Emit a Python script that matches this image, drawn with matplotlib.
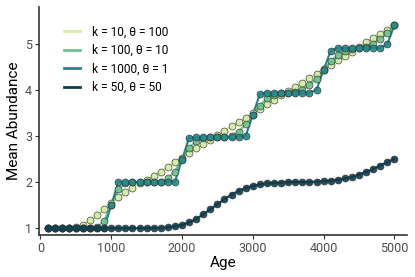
import matplotlib
matplotlib.use("Agg")
import matplotlib.pyplot as plt

plt.rcParams['font.family'] = ['Roboto', 'DejaVu Sans']

age = [100, 200, 300, 400, 500, 600, 700, 800, 900, 1000,
       1100, 1200, 1300, 1400, 1500, 1600, 1700, 1800, 1900, 2000,
       2100, 2200, 2300, 2400, 2500, 2600, 2700, 2800, 2900, 3000,
       3100, 3200, 3300, 3400, 3500, 3600, 3700, 3800, 3900, 4000,
       4100, 4200, 4300, 4400, 4500, 4600, 4700, 4800, 4900, 5000]

# k = 10, theta = 100
ab_k10 = [1.00, 1.00, 1.00, 1.01, 1.03, 1.08, 1.17, 1.28, 1.41, 1.55,
          1.67, 1.78, 1.88, 1.97, 2.05, 2.14, 2.23, 2.33, 2.43, 2.53,
          2.63, 2.73, 2.82, 2.92, 3.02, 3.11, 3.21, 3.30, 3.40, 3.49,
          3.59, 3.69, 3.78, 3.88, 3.97, 4.07, 4.16, 4.26, 4.35, 4.45,
          4.55, 4.64, 4.74, 4.83, 4.93, 5.03, 5.12, 5.22, 5.31, 5.41]

# k = 100, theta = 10
ab_k100 = [1.00, 1.00, 1.00, 1.00, 1.00, 1.00, 1.00, 1.02, 1.16, 1.51,
           1.84, 1.97, 2.00, 2.00, 2.00, 2.00, 2.01, 2.08, 2.23, 2.50,
           2.74, 2.89, 2.95, 2.97, 2.97, 2.98, 3.01, 3.09, 3.26, 3.46,
           3.66, 3.82, 3.90, 3.93, 3.94, 3.96, 4.00, 4.10, 4.24, 4.44,
           4.62, 4.76, 4.85, 4.89, 4.91, 4.94, 5.00, 5.10, 5.23, 5.40]

# k = 1000, theta = 1
ab_k1000 = [1.00, 1.00, 1.00, 1.00, 1.00, 1.00, 1.00, 1.00, 1.00, 1.50,
            2.00, 2.00, 2.00, 2.00, 2.00, 2.00, 2.00, 2.00, 2.01, 2.49,
            2.96, 2.97, 2.97, 2.97, 2.97, 2.97, 2.97, 2.97, 3.00, 3.46,
            3.91, 3.94, 3.94, 3.94, 3.94, 3.94, 3.94, 3.94, 4.00, 4.43,
            4.85, 4.91, 4.91, 4.91, 4.91, 4.91, 4.91, 4.91, 4.99, 5.40]

# k = 50, theta = 50
ab_k50 = [1.00, 1.00, 1.00, 1.00, 1.00, 1.00, 1.00, 1.00, 1.00, 1.00,
          1.00, 1.00, 1.00, 1.00, 1.00, 1.00, 1.01, 1.02, 1.04, 1.07,
          1.13, 1.20, 1.30, 1.41, 1.52, 1.63, 1.73, 1.81, 1.87, 1.92,
          1.95, 1.97, 1.98, 1.99, 2.00, 2.00, 2.00, 2.00, 2.01, 2.02,
          2.03, 2.05, 2.08, 2.11, 2.16, 2.22, 2.28, 2.36, 2.43, 2.51]

labels = ['k = 10, θ = 100', 'k = 100, θ = 10', 'k = 1000, θ = 1', 'k = 50, θ = 50']
colors = ['#d3eea0', '#6cc48c', '#20878a', '#0c3c4e']
series = [ab_k10, ab_k100, ab_k1000, ab_k50]

fig = plt.figure(figsize=(4.15, 2.77), dpi=100)
ax = fig.add_axes([0.094, 0.152, 0.887, 0.823])

for vals, col, lab in zip(series, colors, labels):
    ax.plot(age, vals, color=col, lw=1.5, label=lab, zorder=2)
    ax.plot(age, vals, ls='none', marker='o', ms=5, mfc=col, mec='#333333',
            mew=0.5, alpha=0.9, zorder=3)

ax.set_xlim(-20, 5180)
ax.set_ylim(0.855, 5.8)
ax.set_xticks([0, 1000, 2000, 3000, 4000, 5000])
ax.set_yticks([1, 2, 3, 4, 5])
ax.tick_params(labelsize=9, labelcolor='#4d4d4d', colors='#333333',
               length=3, width=0.8, pad=2)
ax.set_xlabel('Age', fontsize=11, labelpad=1)
ax.set_ylabel('Mean Abundance', fontsize=11, labelpad=3)
for s in ['top', 'right']:
    ax.spines[s].set_visible(False)
for s in ['left', 'bottom']:
    ax.spines[s].set_color('#333333')
    ax.spines[s].set_linewidth(1.2)

leg = ax.legend(loc='upper left', bbox_to_anchor=(0.04, 0.965), frameon=False,
                fontsize=8.6, handlelength=1.3, handletextpad=1.0,
                labelspacing=0.45)
for h in leg.get_lines():
    h.set_linewidth(2)

fig.savefig('out.png', dpi=100)
